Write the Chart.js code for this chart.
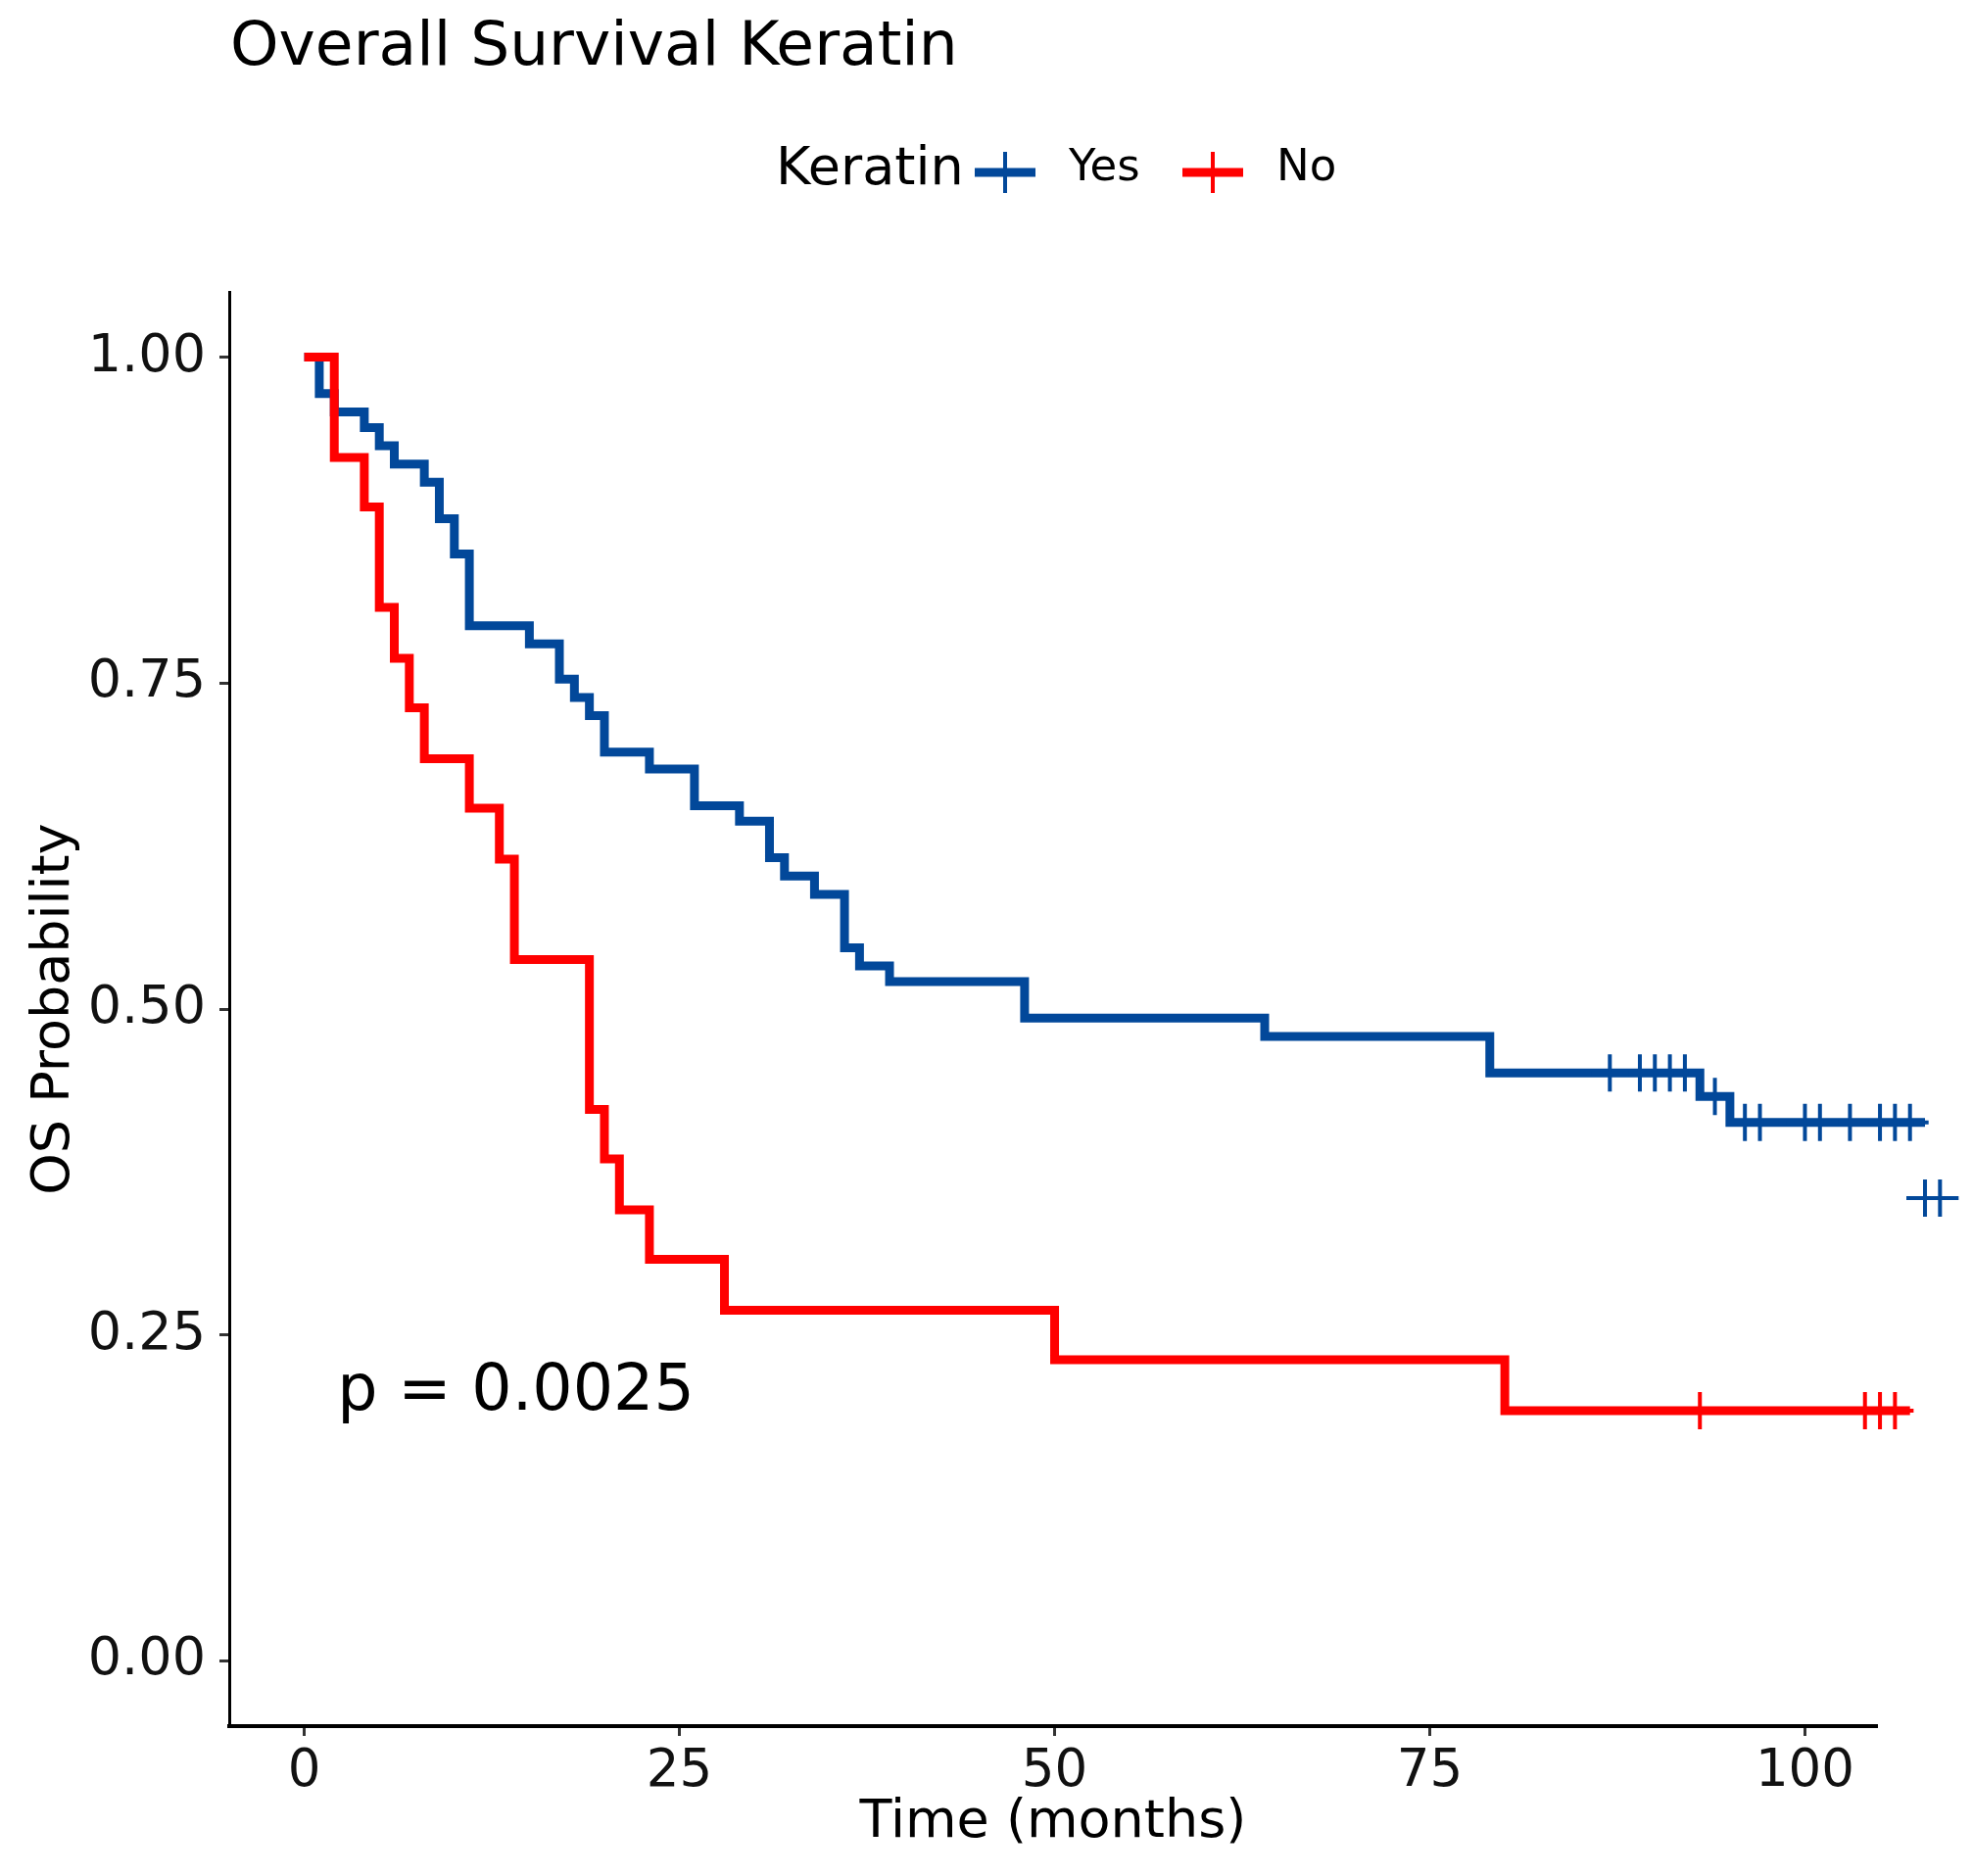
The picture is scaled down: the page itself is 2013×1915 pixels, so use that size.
<!DOCTYPE html>
<html>
<head>
<meta charset="utf-8">
<script src="https://cdn.jsdelivr.net/npm/chart.js@4.4.1/dist/chart.umd.min.js"></script>
<style>
html, body { margin: 0; padding: 0; background: #fff; }
#wrap { width: 2013px; height: 1915px; position: relative; }
</style>
</head>
<body>
<div id="wrap"><canvas id="kmChart"></canvas></div>
<script>
// Keratin = Yes
const yesTimes = [0, 1, 2, 4, 5, 6, 8, 9, 10, 11, 15, 17, 18, 19, 20, 23, 26, 29, 31, 32, 34, 36, 37, 39, 48, 64, 79, 93, 95, 108];
const yesSurv = [1, 0.972, 0.958, 0.946, 0.932, 0.918, 0.904, 0.876, 0.849, 0.794, 0.780, 0.753, 0.739, 0.725, 0.697, 0.684, 0.656, 0.644, 0.616, 0.602, 0.588, 0.547, 0.533, 0.521, 0.493, 0.479, 0.451, 0.433, 0.413, 0.413];
const yesCensorTimes = [87, 89, 90, 91, 92, 94, 96, 97, 100, 101, 103, 105, 106, 107, 108, 109];
const yesCensorSurv = [0.451, 0.451, 0.451, 0.451, 0.451, 0.433, 0.413, 0.413, 0.413, 0.413, 0.413, 0.413, 0.413, 0.413, 0.355, 0.355];

// Keratin = No
const noTimes = [0, 2, 4, 5, 6, 7, 8, 11, 13, 14, 19, 20, 21, 23, 28, 50, 80, 107];
const noSurv = [1, 0.923, 0.885, 0.808, 0.769, 0.731, 0.692, 0.654, 0.615, 0.538, 0.423, 0.385, 0.346, 0.308, 0.269, 0.231, 0.192, 0.192];
const noCensorTimes = [93, 104, 105, 106];
const noCensorSurv = [0.192, 0.192, 0.192, 0.192];

const xTicks = [0, 25, 50, 75, 100];
const yTicks = [0, 0.25, 0.5, 0.75, 1];

const chartTitle = "Overall Survival Keratin";
const legendTitle = "Keratin";
const groupNames = ["Yes", "No"];
const pText = "p = 0.0025";

const BLUE = "#02489a";
const RED = "#ff0000";
const FONT = '"DejaVu Sans", "Liberation Sans", sans-serif';

function toPoints(xs, ys) {
    return xs.map(function (x, i) { return { x: x, y: ys[i] }; });
}

// タイトル・凡例・p値
const annotate = {
    id: "annotate",
    afterDraw(chart) {
        const c = chart.ctx;
        const xs = chart.scales.x, ys = chart.scales.y;
        c.save();
        c.fillStyle = "#000";
        c.textAlign = "left";
        c.textBaseline = "alphabetic";
        c.font = "63px " + FONT;
        c.fillText(chartTitle, 235, 66);

        c.textBaseline = "middle";
        c.font = "54px " + FONT;
        c.fillText(legendTitle, 792, 174);

        const keys = [
            { x0: 995, x1: 1057, cx: 1026, tx: 1091, color: BLUE, label: groupNames[0] },
            { x0: 1207, x1: 1269, cx: 1238, tx: 1303, color: RED, label: groupNames[1] }
        ];
        keys.forEach(function (k) {
            c.strokeStyle = k.color;
            c.lineWidth = 9;
            c.beginPath();
            c.moveTo(k.x0, 176);
            c.lineTo(k.x1, 176);
            c.stroke();
            c.lineWidth = 4;
            c.beginPath();
            c.moveTo(k.cx, 155);
            c.lineTo(k.cx, 197);
            c.stroke();
            c.fillStyle = "#000";
            c.font = "45px " + FONT;
            c.fillText(k.label, k.tx, 172);
        });

        c.textBaseline = "alphabetic";
        c.font = "65px " + FONT;
        c.fillText(pText, xs.getPixelForValue(2.2), ys.getPixelForValue(0.193));
        c.restore();
    }
};

// 軸の右端より先の打ち切り印も描けるように
const widenArea = {
    id: "widenArea",
    beforeDatasetsDraw(chart) {
        chart.$savedRight = chart.chartArea.right;
        chart.chartArea.right = chart.width;
    },
    afterDatasetsDraw(chart) {
        chart.chartArea.right = chart.$savedRight;
    }
};

// 打ち切り印
function censorSet(label, xs, ys, color) {
    return {
        label: label,
        data: toPoints(xs, ys).reverse(),
        showLine: false,
        pointStyle: "cross",
        pointRadius: 19,
        pointBorderWidth: 4,
        pointBorderColor: color,
        pointBackgroundColor: color,
        clip: false,
        order: 0
    };
}

const ctx = document.getElementById("kmChart");
const myChart = new Chart(ctx, {
    type: "line",
    data: {
        datasets: [
            {
                label: groupNames[0],
                data: toPoints(yesTimes, yesSurv),
                borderColor: BLUE,
                borderWidth: 9,
                stepped: true,
                pointRadius: 0,
                fill: false,
                clip: false,
                order: 2
            },
            {
                label: groupNames[1],
                data: toPoints(noTimes, noSurv),
                borderColor: RED,
                borderWidth: 9,
                stepped: true,
                pointRadius: 0,
                fill: false,
                clip: false,
                order: 1
            },
            censorSet(groupNames[0] + " censored", yesCensorTimes, yesCensorSurv, BLUE),
            censorSet(groupNames[1] + " censored", noCensorTimes, noCensorSurv, RED)
        ]
    },
    options: {
        responsive: true,
        maintainAspectRatio: false,
        animation: false,
        layout: { padding: { top: 298, right: 97, bottom: 0, left: 0 } },
        plugins: {
            legend: { display: false },
            title: { display: false },
            tooltip: { enabled: false }
        },
        scales: {
            x: {
                type: "linear",
                min: -5,
                max: 104.8,
                afterFit: function (scale) { scale.height = 153; },
                afterBuildTicks: function (scale) {
                    scale.ticks = xTicks.map(function (v) { return { value: v }; });
                },
                grid: { drawOnChartArea: false, drawTicks: true, tickLength: 10, tickWidth: 3, tickColor: "#333" },
                border: { display: true, color: "#000", width: 4 },
                ticks: {
                    color: "#111",
                    font: { family: FONT, size: 53 },
                    padding: 5,
                    maxRotation: 0,
                    callback: function (v) { return String(v); }
                },
                title: {
                    display: true,
                    text: "Time (months)",
                    color: "#000",
                    font: { family: FONT, size: 54 },
                    padding: { top: 0, bottom: 22 }
                }
            },
            y: {
                type: "linear",
                min: -0.05,
                max: 1.05,
                afterFit: function (scale) { scale.width = 234; },
                afterBuildTicks: function (scale) {
                    scale.ticks = yTicks.map(function (v) { return { value: v }; });
                },
                grid: { drawOnChartArea: false, drawTicks: true, tickLength: 10, tickWidth: 3, tickColor: "#333" },
                border: { display: true, color: "#000", width: 3 },
                ticks: {
                    color: "#111",
                    font: { family: FONT, size: 54 },
                    padding: 14,
                    callback: function (v) { return v.toFixed(2); }
                },
                title: {
                    display: true,
                    text: "OS Probability",
                    color: "#000",
                    font: { family: FONT, size: 54 },
                    padding: { top: 24, bottom: 0 }
                }
            }
        }
    },
    plugins: [widenArea, annotate]
});
</script>
</body>
</html>
